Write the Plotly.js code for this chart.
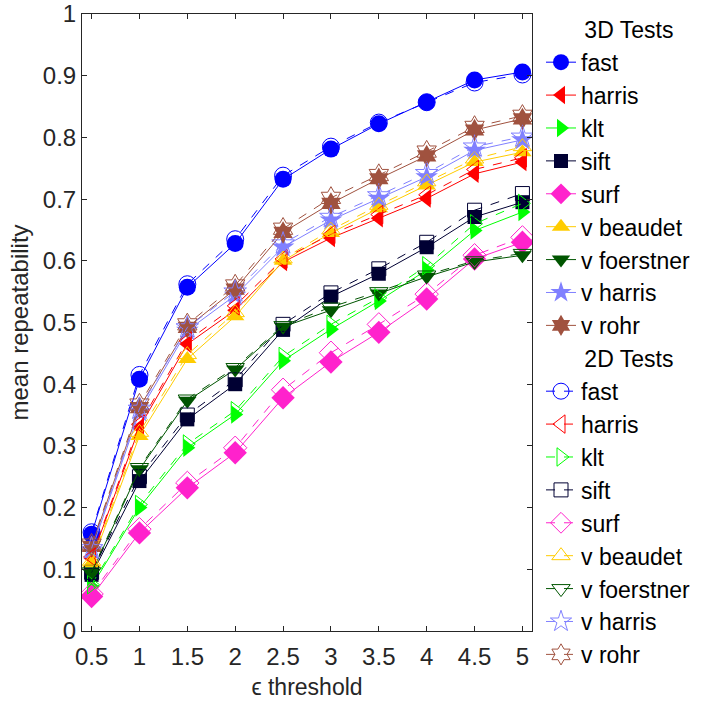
<!DOCTYPE html>
<html>
<head>
<meta charset="utf-8">
<script src="https://cdn.plot.ly/plotly-3.0.1.min.js"></script>
<style>html,body{margin:0;padding:0;background:#fff;}#chart{width:701px;height:704px;}</style>
</head>
<body>
<div id="chart"></div>
<script>
const thresholds = [0.5, 1, 1.5, 2, 2.5, 3, 3.5, 4, 4.5, 5];
const detectors = ["fast", "harris", "klt", "sift", "surf", "v beaudet", "v foerstner", "v harris", "v rohr"];
const xTickLabels = ["0.5", "1", "1.5", "2", "2.5", "3", "3.5", "4", "4.5", "5"];

const fast3D      = [0.157, 0.408, 0.557, 0.628, 0.732, 0.781, 0.822, 0.857, 0.893, 0.906];
const harris3D    = [0.118, 0.330, 0.465, 0.520, 0.598, 0.637, 0.669, 0.701, 0.741, 0.760];
const klt3D       = [0.072, 0.200, 0.297, 0.351, 0.438, 0.489, 0.535, 0.585, 0.649, 0.679];
const sift3D      = [0.091, 0.243, 0.343, 0.400, 0.488, 0.542, 0.579, 0.622, 0.671, 0.695];
const surf3D      = [0.056, 0.159, 0.232, 0.289, 0.378, 0.436, 0.484, 0.538, 0.603, 0.630];
const beaudet3D   = [0.110, 0.316, 0.441, 0.510, 0.600, 0.645, 0.685, 0.722, 0.760, 0.776];
const foerstner3D = [0.094, 0.262, 0.373, 0.424, 0.493, 0.520, 0.547, 0.574, 0.598, 0.609];
const vharris3D   = [0.131, 0.355, 0.487, 0.544, 0.622, 0.666, 0.701, 0.736, 0.779, 0.796];
const vrohr3D     = [0.137, 0.362, 0.492, 0.554, 0.646, 0.693, 0.733, 0.770, 0.812, 0.830];

const fast2D      = [0.160, 0.415, 0.562, 0.635, 0.738, 0.785, 0.824, 0.857, 0.889, 0.902];
const harris2D    = [0.120, 0.335, 0.470, 0.527, 0.603, 0.643, 0.675, 0.707, 0.748, 0.767];
const klt2D       = [0.075, 0.205, 0.303, 0.357, 0.445, 0.497, 0.540, 0.592, 0.660, 0.693];
const sift2D      = [0.095, 0.250, 0.350, 0.407, 0.497, 0.548, 0.587, 0.630, 0.682, 0.709];
const surf2D      = [0.060, 0.165, 0.240, 0.297, 0.391, 0.451, 0.497, 0.546, 0.609, 0.638];
const beaudet2D   = [0.113, 0.322, 0.448, 0.516, 0.603, 0.650, 0.690, 0.728, 0.765, 0.785];
const foerstner2D = [0.096, 0.265, 0.376, 0.427, 0.495, 0.525, 0.550, 0.577, 0.600, 0.612];
const vharris2D   = [0.134, 0.360, 0.492, 0.550, 0.628, 0.671, 0.706, 0.742, 0.785, 0.801];
const vrohr2D     = [0.140, 0.367, 0.497, 0.560, 0.652, 0.702, 0.739, 0.777, 0.817, 0.835];

const series3D = [fast3D, harris3D, klt3D, sift3D, surf3D, beaudet3D, foerstner3D, vharris3D, vrohr3D];
const series2D = [fast2D, harris2D, klt2D, sift2D, surf2D, beaudet2D, foerstner2D, vharris2D, vrohr2D];

const colors = ["#0000ff", "#ff0000", "#00ff00", "#000033", "#ff22cc", "#ffcc00", "#005500", "#8080ff", "#a0523f"];
const symbols = ["circle", "triangle-left", "triangle-right", "square", "diamond", "triangle-up", "triangle-down", "star", "hexagram"];
const sizes = [17, 16, 16, 14, 18, 16, 16, 17, 17];

const pad = "\u00a0\u00a0\u00a0\u00a0\u00a0\u00a0";
const traces = [];
for (let i = 0; i < detectors.length; i++) {
  traces.push({
    x: thresholds, y: series3D[i], name: detectors[i], type: "scatter", mode: "lines+markers",
    legendgroup: "3d", legendgrouptitle: {text: pad + "3D Tests", font: {size: 23, color: "#000"}},
    line: {color: colors[i], width: 1},
    marker: {symbol: symbols[i], size: sizes[i], color: colors[i], line: {width: 0}}
  });
}
for (let i = 0; i < detectors.length; i++) {
  traces.push({
    x: thresholds, y: series2D[i], name: detectors[i], type: "scatter", mode: "lines+markers",
    legendgroup: "2d", legendgrouptitle: {text: pad + "2D Tests", font: {size: 23, color: "#000"}},
    line: {color: colors[i], width: 1, dash: "dash"},
    marker: {symbol: symbols[i] + "-open", size: sizes[i], color: colors[i], line: {width: 1, color: colors[i]}}
  });
}

const layout = {
  width: 701, height: 704,
  margin: {l: 82, r: 169, t: 14, b: 73, autoexpand: false},
  paper_bgcolor: "#fff", plot_bgcolor: "#fff",
  font: {family: "Liberation Sans, Arial, sans-serif", size: 24, color: "#262626"},
  showlegend: true,
  legend: {
    x: 1.02, xanchor: "left", y: 1.01, yanchor: "top", maxheight: 1000,
    font: {size: 23, color: "#000"}, tracegroupgap: 0, itemwidth: 30,
    bgcolor: "rgba(0,0,0,0)", traceorder: "grouped"
  },
  xaxis: {
    range: [0.4, 5.1], tickmode: "array", tickvals: thresholds, ticktext: xTickLabels,
    ticks: "inside", ticklen: 5, tickcolor: "#262626", showline: true, linecolor: "#262626", linewidth: 1,
    mirror: "ticks", showgrid: false, zeroline: false, ticklabelstandoff: 4,
    tickfont: {size: 24, color: "#262626"},
    title: {text: "ϵ threshold", font: {size: 23, color: "#262626"}, standoff: 10}
  },
  yaxis: {
    range: [0, 1], dtick: 0.1, tick0: 0,
    ticks: "inside", ticklen: 5, tickcolor: "#262626", showline: true, linecolor: "#262626", linewidth: 1,
    mirror: "ticks", showgrid: false, zeroline: false,
    tickfont: {size: 24, color: "#262626"},
    title: {text: "mean repeatability", font: {size: 24, color: "#262626"}, standoff: 7}
  }
};

Plotly.newPlot("chart", traces, layout, {displayModeBar: false, staticPlot: true});
</script>
</body>
</html>
